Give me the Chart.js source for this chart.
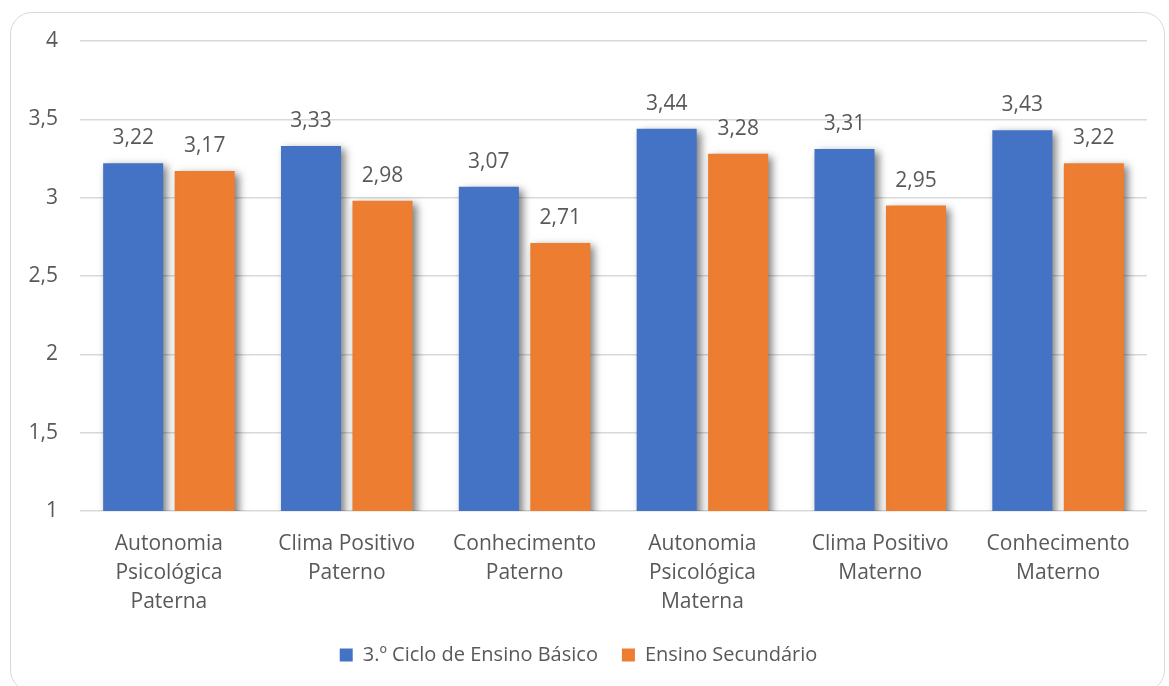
<!DOCTYPE html>
<html>
<head>
<meta charset="utf-8">
<script src="https://cdn.jsdelivr.net/npm/chart.js@4.4.1/dist/chart.umd.min.js"></script>
<style>
  html, body { margin: 0; padding: 0; background: #ffffff; }
  #frame {
    position: absolute; left: 10px; top: 12px; width: 1155px; height: 680px;
    border: 1.5px solid #d9d9d9; border-radius: 22px; box-sizing: border-box;
  }
  #wrap { position: absolute; left: 0; top: 0; width: 1169px; height: 686px; }
</style>
</head>
<body>
<div id="frame"></div>
<div id="wrap"><canvas id="chart"></canvas></div>
<script>
// Categories (multi-line axis labels)
const categories = [
  ["Autonomia", "Psicológica", "Paterna"],
  ["Clima Positivo", "Paterno"],
  ["Conhecimento", "Paterno"],
  ["Autonomia", "Psicológica", "Materna"],
  ["Clima Positivo", "Materno"],
  ["Conhecimento", "Materno"]
];
const seriesNames = ["3.º Ciclo de Ensino Básico", "Ensino Secundário"];
const basico = [3.22, 3.33, 3.07, 3.44, 3.31, 3.43];
const secundario = [3.17, 2.98, 2.71, 3.28, 2.95, 3.22];
const yMin = 1, yMax = 4, yStep = 0.5;

const FONT = "'Open Sans', 'Noto Sans', sans-serif";
const TEXT = "#595959";
const fmt = v => String(v).replace(".", ",");

// Soft drop shadow behind the bars
const barShadow = {
  id: "barShadow",
  beforeDatasetsDraw(chart) {
    const ctx = chart.ctx;
    ctx.save();
    ctx.shadowColor = "rgba(0,0,0,0.5)";
    ctx.shadowBlur = 8;
    ctx.shadowOffsetX = 4;
    ctx.shadowOffsetY = 3;
  },
  afterDatasetsDraw(chart) {
    chart.ctx.restore();
  }
};

// Value labels above each bar
const valueLabels = {
  id: "valueLabels",
  afterDraw(chart) {
    const ctx = chart.ctx;
    ctx.save();
    ctx.font = "21px " + FONT;
    ctx.fillStyle = TEXT;
    ctx.textAlign = "center";
    ctx.textBaseline = "alphabetic";
    chart.data.datasets.forEach((ds, di) => {
      chart.getDatasetMeta(di).data.forEach((bar, i) => {
        ctx.fillText(fmt(ds.data[i]), bar.x, bar.y - 19);
      });
    });
    ctx.restore();
  }
};

new Chart(document.getElementById("chart"), {
  type: "bar",
  data: {
    labels: categories,
    datasets: [
      { label: seriesNames[0], data: basico, backgroundColor: "#4472C4" },
      { label: seriesNames[1], data: secundario, backgroundColor: "#ED7D31" }
    ]
  },
  options: {
    responsive: true,
    maintainAspectRatio: false,
    animation: false,
    devicePixelRatio: 1,
    categoryPercentage: 0.804,
    barPercentage: 0.84,
    layout: { padding: { left: 10, right: 22, top: 41, bottom: 11 } },
    plugins: {
      tooltip: { enabled: false },
      legend: {
        position: "bottom",
        labels: {
          font: { family: FONT, size: 20 },
          color: TEXT,
          boxWidth: 13,
          boxHeight: 13,
          padding: 24
        }
      }
    },
    scales: {
      y: {
        min: yMin, max: yMax,
        ticks: {
          stepSize: yStep,
          color: TEXT,
          font: { family: FONT, size: 21 },
          padding: 22,
          callback: v => fmt(v)
        },
        grid: { color: "#d9d9d9", lineWidth: 1.5, drawTicks: false },
        border: { display: false },
        afterFit(scale) { scale.width = 70; }
      },
      x: {
        ticks: {
          color: TEXT,
          font: { family: FONT, size: 21, lineHeight: 1.4 },
          padding: 10,
          maxRotation: 0,
          autoSkip: false
        },
        grid: { display: false },
        border: { display: false },
        afterFit(scale) { scale.height = 110; }
      }
    }
  },
  plugins: [barShadow, valueLabels]
});
</script>
</body>
</html>
